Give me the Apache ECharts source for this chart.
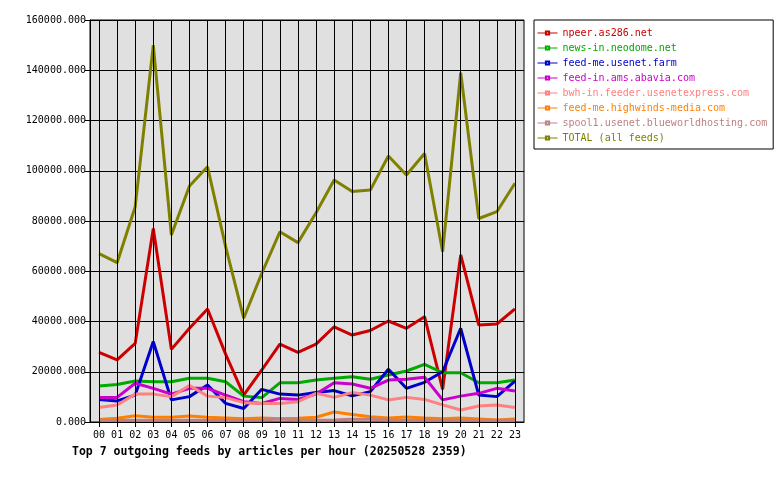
<!DOCTYPE html>
<html>
<head>
<meta charset="utf-8">
<script src="https://cdn.jsdelivr.net/npm/echarts@6/dist/echarts.min.js"></script>
<style>html,body{margin:0;padding:0;background:#fff}#c{width:780px;height:480px}</style>
</head>
<body>
<div id="c"></div>
<script>
const hours = ['00','01','02','03','04','05','06','07','08','09','10','11','12','13','14','15','16','17','18','19','20','21','22','23'];
const seriesNames = ['npeer.as286.net','news-in.neodome.net','feed-me.usenet.farm','feed-in.ams.abavia.com','bwh-in.feeder.usenetexpress.com','feed-me.highwinds-media.com','spool1.usenet.blueworldhosting.com','TOTAL (all feeds)'];
const seriesColors = ['#cc0000','#00aa00','#0000cc','#cc00cc','#ff8080','#ff8000','#c08080','#808000'];
const npeer = [27700,24700,31300,77000,28900,37300,45000,27000,10700,20700,31000,27700,31000,37900,34600,36400,40200,37300,41900,13000,66500,38600,39000,45000];
const neodome = [14300,14900,16300,16000,16000,17400,17400,16000,10300,9700,15600,15600,16700,17400,18000,17000,18700,20300,22900,19600,19600,15600,15600,16700];
const usenetFarm = [9000,8400,10700,32000,8800,10100,14700,7400,5400,13000,11100,10700,11700,12500,10400,12100,21000,13400,15800,20000,37300,10700,10100,16300];
const abavia = [9800,9800,15400,13400,11100,13400,13400,10700,8100,7400,9400,9000,11100,15600,15100,13400,16700,17000,17800,8800,10300,11400,13400,12300];
const usenetexpress = [5800,6800,11100,11100,10100,14500,10300,9700,7700,7400,7400,8100,11400,9800,11700,10700,8800,9800,9000,6800,4800,6400,6800,5800];
const highwinds = [1000,1500,2500,1900,1900,2400,1900,1600,1300,1600,1300,1500,1900,4000,3000,2100,1600,2000,1600,1300,1600,1200,800,1200];
const blueworld = [700,700,700,700,700,700,700,700,700,800,1200,800,700,800,1100,1100,800,700,700,700,700,700,700,700];
const total = [67000,63400,85700,150000,74400,93900,101600,69800,41300,59200,75700,71400,83300,96300,91700,92300,105900,98300,106900,67800,139000,81000,83700,95000];
const yTicks = {min: 0, max: 160000, interval: 20000};
const titleText = 'Top 7 outgoing feeds by articles per hour (20250528 2359)';

const allData = [npeer, neodome, usenetFarm, abavia, usenetexpress, highwinds, blueworld, total];
const mono = 'DejaVu Sans Mono';

const series = seriesNames.map((n, i) => ({
  name: n,
  type: 'line',
  data: allData[i],
  symbol: 'emptyRect',
  symbolSize: 4,
  showSymbol: false,
  color: seriesColors[i],
  lineStyle: {width: 3, color: seriesColors[i]},
  itemStyle: {color: seriesColors[i]},
  emphasis: {disabled: true},
  z: 3
}));
// vertical grid lines through each hour category
series.unshift({
  name: '_grid',
  type: 'line',
  data: hours.map(() => null),
  showSymbol: false,
  silent: true,
  z: 1,
  markLine: {
    silent: true,
    symbol: ['none', 'none'],
    label: {show: false},
    animation: false,
    lineStyle: {color: '#000', width: 1, type: 'solid'},
    emphasis: {disabled: true},
    data: hours.map((h, i) => ({xAxis: i}))
  }
});

const chart = echarts.init(document.getElementById('c'), null, {renderer: 'canvas'});
chart.setOption({
  backgroundColor: '#ffffff',
  animation: false,
  title: {
    text: titleText,
    left: 72, top: 446, padding: 0,
    textStyle: {fontFamily: mono, fontSize: 11.5, fontWeight: 'bold', color: '#000'}
  },
  legend: {
    orient: 'vertical',
    left: 534, top: 20,
    backgroundColor: '#fff',
    borderColor: '#000', borderWidth: 1, borderRadius: 0,
    padding: [8, 6, 6, 3],
    itemWidth: 20, itemHeight: 4, itemGap: 5,
    lineStyle: {width: 1},
    textStyle: {fontFamily: mono, fontSize: 10, lineHeight: 10},
    data: seriesNames.map((n, i) => ({name: n, textStyle: {color: seriesColors[i]}}))
  },
  grid: {
    left: 90, right: 256, top: 20, bottom: 58,
    show: true, backgroundColor: '#e0e0e0', borderColor: '#000', borderWidth: 1
  },
  xAxis: {
    type: 'category',
    data: hours,
    boundaryGap: true,
    axisLine: {lineStyle: {color: '#000', width: 1}},
    axisTick: {show: true, alignWithLabel: true, length: 5, lineStyle: {color: '#000'}},
    axisLabel: {fontFamily: mono, fontSize: 10, color: '#000', margin: 8},
    splitLine: {show: false}
  },
  yAxis: {
    type: 'value',
    min: yTicks.min, max: yTicks.max, interval: yTicks.interval,
    axisLine: {show: true, lineStyle: {color: '#000', width: 1}},
    axisTick: {show: true, length: 5, lineStyle: {color: '#000'}},
    axisLabel: {fontFamily: mono, fontSize: 10, color: '#000', margin: 4,
      formatter: v => v.toFixed(3)},
    splitLine: {show: true, lineStyle: {color: '#000', width: 1}}
  },
  series: series
});
</script>
</body>
</html>
